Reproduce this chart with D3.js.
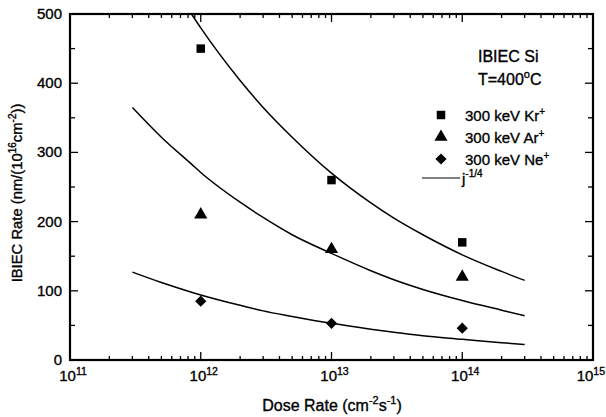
<!DOCTYPE html>
<html><head><meta charset="utf-8">
<script src="https://cdn.jsdelivr.net/npm/d3@7"></script>
<style>body{margin:0;background:#fff}svg{display:block}text{font-family:"Liberation Sans",Arial,sans-serif;fill:#000;stroke:#000;stroke-width:0.35px}</style>
</head><body>
<svg id="c" width="606" height="417"></svg>
<script>
// ---- data ----
const doseRates = [1e12, 1e13, 1e14];
const krRate = [450, 260, 170];
const arRate = [210, 160, 120];
const neRate = [85, 53, 46];
// j^-1/4 curves, values
const fitDose = [3e11, 5e11, 8.5e11, 1e12, 2e12, 3e12, 5e12, 1e13, 2e13, 3e13, 5e13, 1e14, 2e14, 3e14];
const krFit = [null, null, 500, 480, 404, 365, 322, 270, 227, 205, 181, 152, 128, 115];
const arFit = [365, 322, 283, 271, 228, 206, 181, 154, 129, 116, 102, 86, 72, 64];
const neFit = [127, 112, 98, 94, 79, 71, 63, 53, 44.5, 40, 35, 30, 25, 22.5];
const xTickExp = [11, 12, 13, 14, 15];
const yTicks = [0, 100, 200, 300, 400, 500];
const legendLabels = [["300 keV Kr", "+"], ["300 keV Ar", "+"], ["300 keV Ne", "+"]];

const svg = d3.select("#c");
const L = 70, R = 593, T = 14, B = 360;
const x = d3.scaleLog().domain([1e11, 1e15]).range([L, R]);
const y = d3.scaleLinear().domain([0, 500]).range([B, T]);

// minor ticks
const minorX = [];
for (let e = 11; e < 15; e++) for (let m = 2; m <= 9; m++) minorX.push(m * Math.pow(10, e));
const majorX = xTickExp.map(e => Math.pow(10, e));
const minorY = [50, 150, 250, 350, 450];

const g = svg.append("g").attr("stroke", "#000").attr("stroke-width", 1.3);
function tickX(v, len) {
  g.append("line").attr("x1", x(v)).attr("x2", x(v)).attr("y1", B).attr("y2", B - len);
  g.append("line").attr("x1", x(v)).attr("x2", x(v)).attr("y1", T).attr("y2", T + len);
}
function tickY(v, len) {
  g.append("line").attr("y1", y(v)).attr("y2", y(v)).attr("x1", L).attr("x2", L + len);
  g.append("line").attr("y1", y(v)).attr("y2", y(v)).attr("x1", R).attr("x2", R - len);
}
minorX.forEach(v => tickX(v, 4));
majorX.forEach(v => tickX(v, 8));
minorY.forEach(v => tickY(v, 5));
yTicks.forEach(v => tickY(v, 8));
svg.append("rect").attr("x", L).attr("y", T).attr("width", R - L).attr("height", B - T)
  .attr("fill", "none").attr("stroke", "#000").attr("stroke-width", 2.2);

// tick labels
yTicks.forEach(v => {
  svg.append("text").attr("x", L - 8).attr("y", y(v) + 5).attr("text-anchor", "end")
    .attr("font-size", 15).text(v);
});
xTickExp.forEach((e, i) => {
  const last = i === xTickExp.length - 1;
  const t = svg.append("text")
    .attr("x", last ? 605 : x(Math.pow(10, e)) + 3)
    .attr("y", B + 21).attr("text-anchor", last ? "end" : "middle").attr("font-size", 15);
  t.append("tspan").text("10");
  t.append("tspan").attr("dy", -6).attr("font-size", 10.5).text(e);
});

// axis titles
const xt = svg.append("text").attr("x", 332).attr("y", 411).attr("text-anchor", "middle").attr("font-size", 16);
xt.append("tspan").text("Dose Rate (cm");
xt.append("tspan").attr("dy", -7).attr("font-size", 11).text("-2");
xt.append("tspan").attr("dy", 7).text("s");
xt.append("tspan").attr("dy", -7).attr("font-size", 11).text("-1");
xt.append("tspan").attr("dy", 7).text(")");

const yt = svg.append("text").attr("transform", "translate(22,193) rotate(-90)").attr("text-anchor", "middle").attr("font-size", 14.8);
yt.append("tspan").text("IBIEC Rate (nm/(10");
yt.append("tspan").attr("dy", -6).attr("font-size", 10).text("16");
yt.append("tspan").attr("dy", 6).text("cm");
yt.append("tspan").attr("dy", -6).attr("font-size", 10).text("-2");
yt.append("tspan").attr("dy", 6).text("))");

// fit curves
svg.append("clipPath").attr("id", "pa").append("rect").attr("x", L).attr("y", T).attr("width", R - L).attr("height", B - T);
const line = d3.line().defined(d => d[1] != null).x(d => x(d[0])).y(d => y(d[1])).curve(d3.curveMonotoneX);
[krFit, arFit, neFit].forEach(arr => {
  svg.append("path").attr("d", line(fitDose.map((d, i) => [d, arr[i]])))
    .attr("fill", "none").attr("stroke", "#000").attr("stroke-width", 1.5).attr("clip-path", "url(#pa)");
});

// markers
const sym = {
  sq: d3.symbol().type(d3.symbolSquare).size(72),
  tri: d3.symbol().type(d3.symbolTriangle).size(75),
  dia: d3.symbol().type(d3.symbolDiamond2).size(80)
};
function drawPts(vals, s) {
  doseRates.forEach((d, i) => {
    svg.append("path").attr("d", s()).attr("transform", `translate(${x(d)},${y(vals[i])})`).attr("fill", "#000");
  });
}
drawPts(krRate, sym.sq);
drawPts(arRate, sym.tri);
drawPts(neRate, sym.dia);

// legend
svg.append("text").attr("x", 478).attr("y", 62).attr("font-size", 16).text("IBIEC Si");
const tt = svg.append("text").attr("x", 478).attr("y", 85).attr("font-size", 16);
tt.append("tspan").text("T=400");
tt.append("tspan").attr("dy", -7).attr("font-size", 11).text("o");
tt.append("tspan").attr("dy", 7).text("C");

const legSyms = [sym.sq, sym.tri, sym.dia];
const legY = [116, 138, 160];
legendLabels.forEach((lab, i) => {
  svg.append("path").attr("d", legSyms[i]()).attr("transform", `translate(441,${legY[i] - 1})`).attr("fill", "#000");
  const t = svg.append("text").attr("x", 465).attr("y", legY[i] + 5).attr("font-size", 15);
  t.append("tspan").text(lab[0]);
  t.append("tspan").attr("dy", -6).attr("font-size", 10).text(lab[1]);
});
svg.append("line").attr("x1", 422).attr("x2", 460).attr("y1", 178).attr("y2", 178).attr("stroke", "#000").attr("stroke-width", 1.2);
const jt = svg.append("text").attr("x", 462).attr("y", 184).attr("font-size", 15);
jt.append("tspan").text("j");
jt.append("tspan").attr("dy", -7).attr("font-size", 10).text("-1/4");
</script>
</body></html>
